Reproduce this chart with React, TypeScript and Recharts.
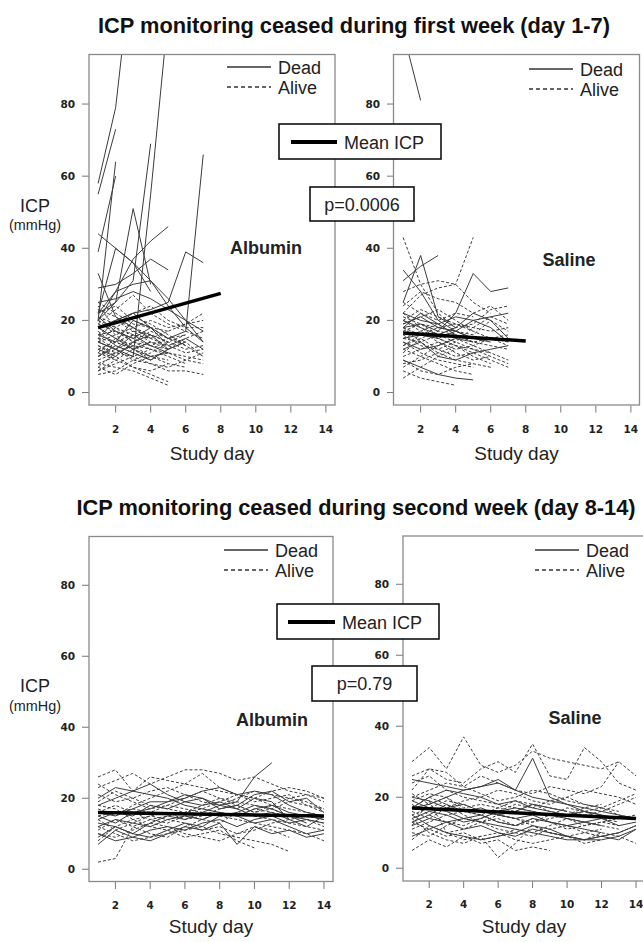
import React from 'react';
import { LineChart, Line, XAxis, YAxis } from 'recharts';

const xTicks = [2, 4, 6, 8, 10, 12, 14];
const yTicks = [0, 20, 40, 60, 80];

// albumin, ICP stopped in week 1 (days 1-7)
const albW1Dead = [
	[58, 79, 122],
	[55, 73],
	[39, 60],
	[14, 12, 10, 55, 105],
	[20, 25, 31, 69],
	[16, 14, 20, 18, 15, 17, 66],
	[22, 25, 51, 30],
	[22, 28, 37, 42, 46],
	[44, 40, 36, 31, 26, 20, 14],
	[22, 40, 36, 28],
	[18, 20, 22, 23, 25, 39, 36],
	[29, 30, 33, 37, 34],
	[20, 28, 30, 31, 24, 18, 14],
	[25, 26, 28, 26, 23, 20, 17],
	[20, 64],
	[18, 15, 12, 14],
	[12, 10, 14, 16, 12],
	[15, 20, 22, 18, 13, 15, 12],
	[33, 21, 18, 15],
	[14, 12, 16, 13, 11],
	[21, 17, 15, 18],
	[10, 13, 11, 9, 12, 14],
];
const albW1Alive = [
	[10, 12, 9, 8, 6, 6, 5],
	[15, 14, 12, 10, 11, 9, 8],
	[20, 18, 16, 15, 17, 19, 22],
	[8, 7, 6, 4, 2],
	[12, 9, 7, 5, 3],
	[25, 22, 19, 18, 15, 14, 10],
	[18, 20, 17, 16, 14, 12, 13],
	[6, 8, 10, 12, 11, 10, 9],
	[14, 16, 18, 20, 18, 19, 20],
	[22, 24, 20, 18, 17],
	[9, 11, 13, 12, 10, 8],
	[17, 13, 11, 9, 12, 14],
	[11, 15, 17, 14, 13],
	[24, 18, 14, 12],
	[7, 5, 8, 10, 9],
	[19, 23, 27, 22, 19, 17, 15],
	[13, 11, 10, 8, 7, 9, 11],
	[16, 17, 15, 13, 12, 15, 17],
	[5, 6, 9, 11, 14, 16],
	[21, 19, 22, 24, 20, 18, 18],
	[10, 14, 12, 9],
	[23, 21, 18, 16, 14],
	[15, 12, 14, 17, 15, 13, 10],
	[12, 14, 16, 15, 13, 11, 12],
	[8, 10, 7, 6, 8, 7],
	[18, 15, 13],
	[20, 16, 12, 10, 11],
	[13, 10],
	[6, 9],
	[16, 20, 18],
	[11, 9, 12, 14, 12],
	[19, 17, 14, 13, 15, 16],
	[7, 11, 13, 10, 8],
	[14, 18, 21, 19, 16, 13],
];
const albW1Mean = [18, 27.5];

// saline, ICP stopped in week 1
const salW1Dead = [
	[100, 81],
	[25, 38, 21, 18],
	[31, 35, 38],
	[34, 28, 20, 17, 15],
	[18, 19, 17, 22, 33, 28, 29],
	[15, 16, 15, 17, 20, 21, 22],
	[20, 18, 16, 18, 22, 20, 15],
	[9, 7, 5, 4, 3.5],
	[18, 22, 19, 16],
	[12, 14, 10, 9, 11, 12, 13],
	[22, 20, 19, 21, 20, 18, 14],
	[14, 12, 13, 15, 14],
	[19, 21, 18, 17, 15, 14],
];
const salW1Alive = [
	[43, 30, 22, 18],
	[22, 27, 29, 30, 43],
	[28, 30, 31, 30, 25, 22],
	[24, 28, 26, 25, 22, 24, 20],
	[18, 16, 15, 13, 11, 9, 7],
	[12, 10, 8, 6, 5],
	[6, 4, 3, 2],
	[15, 17, 14, 12, 13, 15, 14],
	[21, 19, 18, 17, 16, 20, 17],
	[10, 12, 14, 11, 9, 10],
	[16, 13, 12, 14, 18, 21, 19],
	[8, 9, 11, 13, 12, 10, 8],
	[14, 11, 9, 8, 7],
	[19, 21, 23, 20, 17],
	[25, 22, 20, 22, 21],
	[11, 15, 17, 16, 14, 13, 12],
	[4, 7, 10, 12],
	[17, 19, 16, 14, 12, 11],
	[13, 16, 18, 19, 17, 15, 16],
	[9, 6, 5, 7, 8],
	[22, 18, 15, 13, 10, 8],
	[15, 14, 16, 18, 19, 23, 24],
	[20, 23, 21, 19, 18, 17, 18],
	[7, 10, 13, 15, 13, 11, 9],
	[18, 14, 11, 9, 8, 7],
	[13, 15, 12, 10, 11],
	[20, 17, 19, 16, 14, 15, 13],
];
const salW1Mean = [16.5, 14.3];

// albumin, ICP stopped in week 2 (days 8-14)
const albW2Dead = [
	[9, 12, 10, 13, 15, 14, 16, 18, 17, 20, 19, 14, 12, 15],
	[14, 16, 15, 18, 17, 19, 20, 18, 19, 26, 30],
	[16, 15, 17, 19, 19, 20, 22, 23, 21, 22, 21, 18, 16, 15],
	[7, 11, 9, 8, 10, 12, 11, 13, 7, 12, 10, 11, 9, 10],
	[12, 14, 13, 12, 14, 15, 14, 16, 15, 13, 14, 12, 10, 11],
	[18, 20, 22, 21, 20, 18, 17, 16, 15, 17, 18, 16, 15, 14],
	[10, 8, 9, 11, 12, 11, 13, 14, 12, 14, 15, 13, 14, 13],
	[15, 13, 16, 17, 19, 21, 20, 17, 18, 21, 22, 19, 20, 16],
	[13, 12, 10, 9, 11, 13, 12, 15, 16, 18, 17, 15, 13],
	[20, 23, 22, 24, 21, 19, 18, 19, 17, 15, 16, 14],
];
const albW2Alive = [
	[2, 3, 12, 14, 13, 15, 14, 16, 15, 17, 16, 15, 14, 13],
	[26, 28, 22, 26, 25, 24, 23, 22, 21, 20, 22, 23, 22, 20],
	[23, 25, 27, 24, 26, 28, 28, 27, 25, 26, 24, 22, 21, 19],
	[17, 15, 18, 20, 22, 24, 27, 23, 21, 19, 20, 21, 18, 16],
	[12, 10, 8, 9, 10, 11, 12, 10, 9, 8, 7, 5],
	[18, 17, 14, 12, 11, 9, 10, 11, 8, 6],
	[15, 16, 17, 16, 18, 17, 16, 15, 14, 13, 12, 11, 10, 8],
	[8, 12, 14, 15, 16, 14, 15, 17, 18, 16, 17, 19, 18, 17],
	[21, 19, 20, 18, 17, 16, 18, 20, 19, 18, 17, 15, 14, 12],
	[11, 14, 12, 10, 9, 12, 14, 13, 16, 15, 14, 13, 12, 11],
	[14, 11, 13, 15, 14, 13, 11, 12, 10, 11, 13, 14, 15, 14],
	[19, 22, 20, 22, 23, 21, 19, 18, 20, 22, 21, 20, 19, 17],
	[16, 18, 16, 14, 15, 16, 17, 19, 21, 20, 18, 17, 16, 15],
	[10, 9, 11, 13, 12, 10, 9, 8, 10, 12, 11, 9],
	[24, 21, 19, 17, 18, 20, 22, 20, 18, 16, 18, 20, 21, 20],
];
const albW2Mean = [16, 15];

// saline, ICP stopped in week 2
const salW2Dead = [
	[17, 18, 20, 22, 23, 25, 22, 31, 20, 18, 16, 15],
	[25, 24, 23, 22, 23, 24, 22, 20, 19, 18, 17, 16, 15, 14],
	[12, 14, 13, 11, 12, 10, 9, 11, 10, 9, 8, 8, 9, 11],
	[15, 12, 10, 9, 8, 9, 10, 12, 11, 9, 8, 9, 10, 12],
	[20, 19, 17, 18, 16, 15, 14, 15, 13, 12, 13, 14, 12, 13],
	[9, 11, 13, 14, 13, 12, 11, 10, 9, 8, 8, 9, 8, 11],
	[17, 20, 22, 21, 20, 18, 19, 17, 16, 15, 16, 15, 14],
	[14, 16, 15, 13, 14, 16, 17, 16, 15, 14, 13, 12],
	[19, 17, 16, 14, 15, 13, 12, 14, 13, 12, 11, 10],
	[13, 15, 18, 16, 17, 15, 16, 18, 17, 16],
];
const salW2Alive = [
	[30, 34, 28, 37, 29, 27, 29, 33, 31, 30, 29, 28, 30, 26],
	[22, 28, 25, 24, 28, 30, 27, 35, 26, 25, 34, 30, 24, 22],
	[12, 19, 10, 8, 9, 3, 7, 12, 10, 9, 8, 10, 9, 7],
	[5, 8, 6, 9, 7, 8, 5, 6, 5],
	[26, 28, 27, 23, 26, 24, 22, 21, 23, 22, 21, 23, 30],
	[18, 15, 13, 12, 14, 16, 18, 17, 19, 20, 18, 17, 19, 21],
	[15, 17, 19, 18, 16, 15, 14, 13, 14, 15, 16, 17, 15, 14],
	[10, 9, 12, 14, 13, 11, 10, 9, 11, 12, 10, 9, 10, 12],
	[20, 22, 24, 23, 21, 19, 20, 22, 21, 19, 18, 17, 16],
	[8, 12, 10, 11, 13, 15, 14, 12, 10, 9, 7, 8],
	[16, 14, 17, 19, 20, 22, 21, 19, 18, 20, 22, 21, 20, 18],
	[13, 11, 9, 10, 8, 9, 11, 10, 12, 14, 13, 12, 11],
	[19, 21, 20, 17, 18, 17, 16, 18, 17, 16, 15, 16, 18, 20],
	[24, 26, 22, 20, 19, 18, 17, 16, 15, 17, 16, 14, 13],
	[11, 13, 15, 16, 15, 13, 12, 14, 13, 11, 12, 13, 14, 15],
	[14, 10, 8, 7, 9, 10, 8, 7, 8, 9, 10, 11],
	[21, 18, 20, 16, 15, 17, 19, 18, 16, 15, 17, 18],
	[17, 20, 18, 15, 13, 14, 12, 13, 15, 14, 12, 13, 12],
];
const salW2Mean = [17, 14];

type Box = { x: number; y: number; w: number; h: number };

const buildRows = (dead: number[][], alive: number[][], mean: number[], meanEnd: number) => {
	const rows: Record<string, number>[] = [];
	for (let day = 1; day <= 14; day++) {
		const row: Record<string, number> = { day };
		dead.forEach((s, i) => {
			if (s[day - 1] != null) row['d' + i] = s[day - 1];
		});
		alive.forEach((s, i) => {
			if (s[day - 1] != null) row['a' + i] = s[day - 1];
		});
		if (day === 1) row.mean = mean[0];
		if (day === meanEnd) row.mean = mean[1];
		rows.push(row);
	}
	return rows;
};

const tickFont = { fontFamily: 'DejaVu Sans', fontWeight: 'bold', fontSize: 10.5, fill: '#222' };
const lineGrey = '#3c3c3c';

const Panel: React.FC<{ box: Box; dead: number[][]; alive: number[][]; mean: number[]; meanEnd: number }> = ({
	box,
	dead,
	alive,
	mean,
	meanEnd,
}) => {
	const rows = buildRows(dead, alive, mean, meanEnd);
	return (
		<div style={{ position: 'absolute', left: box.x - 40, top: box.y }}>
			<LineChart width={box.w + 40} height={box.h + 40} data={rows} margin={{ top: 0, right: 0, bottom: 0, left: 0 }}>
				<XAxis
					dataKey="day"
					type="number"
					domain={[0.48, 14.52]}
					ticks={xTicks}
					interval={0}
					allowDataOverflow
					axisLine={false}
					tickLine={{ stroke: '#777' }}
					tickSize={7}
					tickMargin={13}
					height={40}
					tick={tickFont}
				/>
				<YAxis
					type="number"
					domain={[-3.6, 93.6]}
					ticks={yTicks}
					interval={0}
					allowDataOverflow
					axisLine={false}
					tickLine={{ stroke: '#777' }}
					tickSize={7}
					tickMargin={7}
					width={40}
					tick={tickFont}
				/>
				{alive.map((_, i) => (
					<Line
						key={'a' + i}
						dataKey={'a' + i}
						stroke={lineGrey}
						strokeWidth={1}
						strokeDasharray="3 2"
						dot={false}
						activeDot={false}
						isAnimationActive={false}
					/>
				))}
				{dead.map((_, i) => (
					<Line
						key={'d' + i}
						dataKey={'d' + i}
						stroke={lineGrey}
						strokeWidth={1}
						dot={false}
						activeDot={false}
						isAnimationActive={false}
					/>
				))}
				<Line dataKey="mean" stroke="#000" strokeWidth={3.5} connectNulls dot={false} activeDot={false} isAnimationActive={false} />
			</LineChart>
		</div>
	);
};

const boxTL: Box = { x: 89, y: 54.5, w: 246, h: 350.5 };
const boxTR: Box = { x: 393.5, y: 54.5, w: 246, h: 350.5 };
const boxBL: Box = { x: 89, y: 536.5, w: 244, h: 345 };
const boxBR: Box = { x: 403, y: 536, w: 242, h: 345 };

const font = 'Liberation Sans, Arial, sans-serif';

const Legend: React.FC<{ x: number; y: number }> = ({ x, y }) => (
	<g>
		<line x1={x} x2={x + 44} y1={y} y2={y} stroke="#333" strokeWidth={1.3} />
		<text x={x + 51} y={y + 6.5} fontSize={18} fontFamily={font} fill="#222">Dead</text>
		<line x1={x} x2={x + 44} y1={y + 20} y2={y + 20} stroke="#333" strokeWidth={1.3} strokeDasharray="4 3" />
		<text x={x + 51} y={y + 26.5} fontSize={18} fontFamily={font} fill="#222">Alive</text>
	</g>
);

const PanelFrame: React.FC<{ box: Box }> = ({ box }) => (
	<rect x={box.x} y={box.y} width={box.w} height={box.h} fill="none" stroke="#8a8a8a" strokeWidth={1.3} />
);

const Axes: React.FC<{ box: Box; base: number }> = ({ box, base }) => (
	<text x={box.x + box.w / 2} y={base} fontSize={19} fontFamily={font} textAnchor="middle" fill="#222">Study day</text>
);

export default function App() {
	return (
		<div style={{ position: 'absolute', left: 0, top: 0, width: 643, height: 942, overflow: 'hidden', background: '#fff' }}>
			<Panel box={boxTL} dead={albW1Dead} alive={albW1Alive} mean={albW1Mean} meanEnd={8} />
			<Panel box={boxTR} dead={salW1Dead} alive={salW1Alive} mean={salW1Mean} meanEnd={8} />
			<Panel box={boxBL} dead={albW2Dead} alive={albW2Alive} mean={albW2Mean} meanEnd={14} />
			<Panel box={boxBR} dead={salW2Dead} alive={salW2Alive} mean={salW2Mean} meanEnd={14} />
			<svg width={643} height={942} style={{ position: 'absolute', left: 0, top: 0, pointerEvents: 'none' }}>
				<text x={354} y={33} fontSize={21.8} fontWeight="bold" fontFamily={font} textAnchor="middle" fill="#111">
					ICP monitoring ceased during first week (day 1-7)
				</text>
				<text x={356} y={515} fontSize={21.8} fontWeight="bold" fontFamily={font} textAnchor="middle" fill="#111">
					ICP monitoring ceased during second week (day 8-14)
				</text>
				<PanelFrame box={boxTL} />
				<PanelFrame box={boxTR} />
				<PanelFrame box={boxBL} />
				<PanelFrame box={boxBR} />
				<Axes box={boxTL} base={460} />
				<Axes box={boxTR} base={460} />
				<Axes box={boxBL} base={933} />
				<Axes box={boxBR} base={933} />
				<Legend x={227} y={67} />
				<Legend x={529} y={69} />
				<Legend x={224} y={550} />
				<Legend x={535} y={550} />
				<text x={35} y={212} fontSize={18} fontFamily={font} textAnchor="middle" fill="#222">ICP</text>
				<text x={35} y={230} fontSize={14.4} fontFamily={font} textAnchor="middle" fill="#222">(mmHg)</text>
				<text x={35} y={692} fontSize={18} fontFamily={font} textAnchor="middle" fill="#222">ICP</text>
				<text x={35} y={711} fontSize={14.4} fontFamily={font} textAnchor="middle" fill="#222">(mmHg)</text>
				<text x={266} y={254} fontSize={18} fontWeight="bold" fontFamily={font} textAnchor="middle" fill="#222">Albumin</text>
				<text x={569} y={266} fontSize={18} fontWeight="bold" fontFamily={font} textAnchor="middle" fill="#222">Saline</text>
				<text x={272} y={726} fontSize={18} fontWeight="bold" fontFamily={font} textAnchor="middle" fill="#222">Albumin</text>
				<text x={575} y={724} fontSize={18} fontWeight="bold" fontFamily={font} textAnchor="middle" fill="#222">Saline</text>
				{/* mean ICP and p-value boxes, week 1 */}
				<rect x={279} y={124} width={162} height={35} fill="#fff" stroke="#111" strokeWidth={1.6} />
				<line x1={291} x2={337} y1={142} y2={142} stroke="#000" strokeWidth={4} />
				<text x={344} y={148.5} fontSize={18} fontFamily={font} fill="#222">Mean ICP</text>
				<rect x={310} y={187} width={104} height={34} fill="#fff" stroke="#111" strokeWidth={1.6} />
				<text x={362} y={210.5} fontSize={18} fontFamily={font} textAnchor="middle" fill="#222">p=0.0006</text>
				{/* week 2 */}
				<rect x={277} y={604} width={162} height={35} fill="#fff" stroke="#111" strokeWidth={1.6} />
				<line x1={288} x2={335} y1={622} y2={622} stroke="#000" strokeWidth={4} />
				<text x={342} y={628.5} fontSize={18} fontFamily={font} fill="#222">Mean ICP</text>
				<rect x={312} y={666} width={105} height={35} fill="#fff" stroke="#111" strokeWidth={1.6} />
				<text x={364.5} y={690} fontSize={18} fontFamily={font} textAnchor="middle" fill="#222">p=0.79</text>
			</svg>
		</div>
	);
}
